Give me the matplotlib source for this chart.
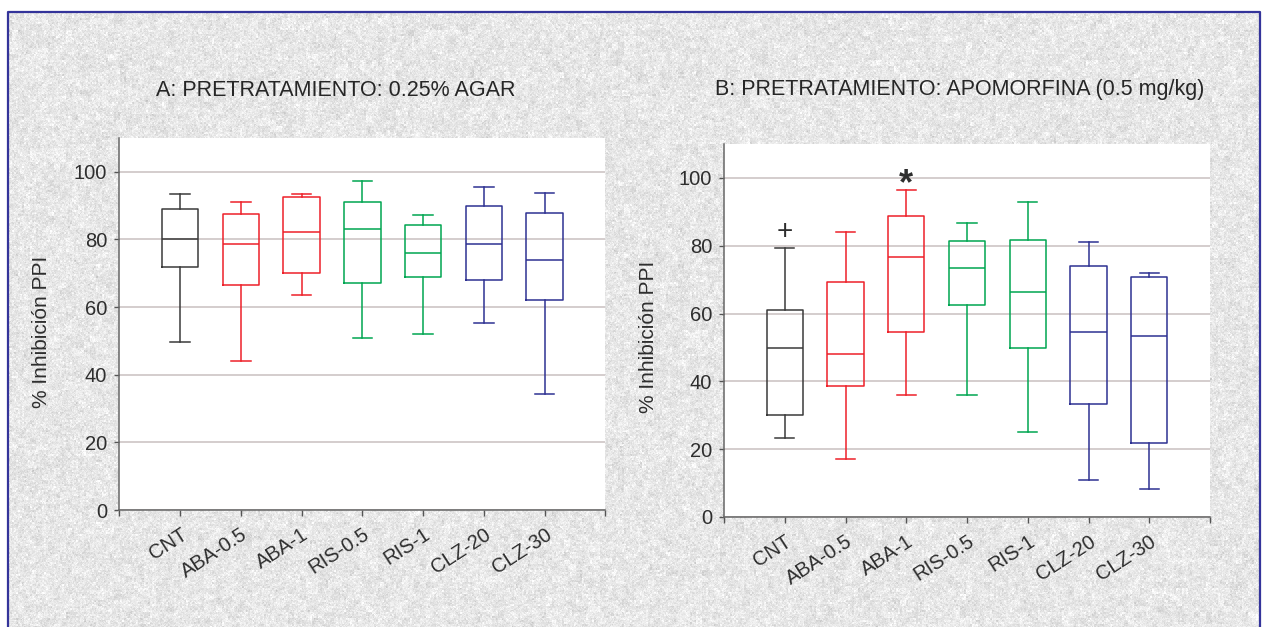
import numpy as np
import matplotlib
matplotlib.use("Agg")
import matplotlib.pyplot as plt

plt.rcParams['font.family'] = ['Liberation Sans', 'DejaVu Sans']

# groups and colours
groups = ["CNT", "ABA-0.5", "ABA-1", "RIS-0.5", "RIS-1", "CLZ-20", "CLZ-30"]
colors = ["#3a3a3a", "#ee2129", "#ee2129", "#00a651", "#00a651", "#2e3192", "#2e3192"]

# A: pretratamiento 0.25% agar
a_low = [49.7, 44.0, 63.5, 50.9, 51.9, 55.2, 34.2]
a_q1 = [72.0, 66.4, 70.0, 67.1, 68.8, 67.9, 62.2]
a_med = [80.0, 78.7, 82.3, 83.1, 76.1, 78.8, 74.0]
a_q3 = [89.1, 87.4, 92.7, 91.2, 84.3, 89.9, 87.8]
a_high = [93.5, 91.2, 93.4, 97.3, 87.2, 95.6, 93.6]

# B: pretratamiento apomorfina
b_low = [23.3, 17.1, 36.1, 36.1, 25.2, 10.8, 8.2]
b_q1 = [30.0, 38.5, 54.5, 62.4, 49.9, 33.2, 21.9]
b_med = [49.9, 48.0, 76.7, 73.3, 66.4, 54.7, 53.5]
b_q3 = [61.0, 69.4, 88.8, 81.5, 81.8, 74.1, 70.7]
b_high = [79.3, 84.0, 96.4, 86.6, 92.8, 81.0, 71.9]

# significance marks in panel B
mark_groups = [0, 2]
mark_symbols = ["+", "*"]
mark_y = [84.0, 100.4]

W, H = 1268, 627
fig = plt.figure(figsize=(W / 100, H / 100), dpi=100)

# grainy grey backdrop with a navy frame
bg = fig.add_axes([0, 0, 1, 1])
rng = np.random.default_rng(11)
blotch = np.kron(rng.normal(0, 1, (H // 6 + 1, W // 6 + 1)), np.ones((6, 6)))[:H, :W]
coarse = np.kron(rng.normal(0, 1, (H // 2 + 1, W // 2 + 1)), np.ones((2, 2)))[:H, :W]
fine = rng.normal(0, 1, (H, W))
tex = np.clip(0.905 + 0.015 * blotch + 0.025 * coarse + 0.022 * fine, 0.72, 1.0)
bg.imshow(tex, cmap="gray", vmin=0, vmax=1, extent=[0, W, H, 0],
          interpolation="nearest", aspect="auto")
bg.fill_between([0, W], 0, 12, color="white", lw=0)
bg.fill_between([0, 8], 0, H, color="white", lw=0)
bg.fill_between([1260, W], 0, H, color="white", lw=0)
bg.plot([8, 8, 1260, 1260], [H, 12, 12, H], color="#34349a", lw=1.6)
bg.set_xlim(0, W)
bg.set_ylim(H, 0)
bg.axis("off")


def draw_panel(rect, low, q1, med, q3, high):
    ax = fig.add_axes(rect)
    ax.set_facecolor("white")
    stats = []
    for i, g in enumerate(groups):
        stats.append(dict(label=g, whislo=low[i], q1=q1[i], med=med[i],
                          q3=q3[i], whishi=high[i], fliers=[]))
    art = ax.bxp(stats, positions=range(1, 8), widths=0.6, showfliers=False,
                 capwidths=0.32)
    for i, c in enumerate(colors):
        art["boxes"][i].set(color=c, lw=1.1)
        art["medians"][i].set(color=c, lw=1.1)
        for k in (2 * i, 2 * i + 1):
            art["whiskers"][k].set(color=c, lw=1.1)
            art["caps"][k].set(color=c, lw=1.1)
    ax.set_xlim(0, 8)
    ax.set_ylim(0, 110)
    ax.set_yticks([0, 20, 40, 60, 80, 100])
    ax.set_xticks(range(9))
    ax.set_xticklabels([""] + groups + [""], rotation=33, ha="right",
                       rotation_mode="anchor", fontsize=14.5, color="#2e2e2e")
    ax.tick_params(axis="y", labelsize=14.5, labelcolor="#2e2e2e", length=3.6,
                   width=1, color="#555555", pad=5)
    ax.tick_params(axis="x", length=4.5, width=1, color="#555555", pad=6)
    ax.yaxis.grid(True, color="#c9c0c0", lw=1.1)
    ax.set_axisbelow(True)
    for s in ("top", "right"):
        ax.spines[s].set_visible(False)
    for s in ("left", "bottom"):
        ax.spines[s].set_color("#666666")
        ax.spines[s].set_linewidth(1.1)
    return ax


ax_a = draw_panel([119.3 / W, 1 - 510 / H, 486 / W, 372 / H],
                  a_low, a_q1, a_med, a_q3, a_high)
ax_b = draw_panel([724 / W, 1 - 517 / H, 486 / W, 373 / H],
                  b_low, b_q1, b_med, b_q3, b_high)

ax_b.text(mark_groups[0] + 1, mark_y[0], mark_symbols[0], ha="center",
          va="center", fontsize=20, color="#2e2e2e")
ax_b.text(mark_groups[1] + 1, mark_y[1], mark_symbols[1], ha="center",
          va="center", fontsize=26, color="#2e2e2e", fontweight="bold",
          transform=ax_b.transData + matplotlib.transforms.ScaledTranslation(
              0, -6 / 72, fig.dpi_scale_trans))

fig.text(335.6 / W, 1 - 90 / H, "A: PRETRATAMIENTO: 0.25% AGAR",
         ha="center", va="center", fontsize=15.5, color="#262626")
fig.text(960 / W, 1 - 90 / H, "B: PRETRATAMIENTO: APOMORFINA (0.5 mg/kg)",
         ha="center", va="center", fontsize=15.5, color="#262626")
fig.text(42 / W, 1 - 332 / H, "% Inhibición PPI", rotation=90,
         ha="center", va="center", fontsize=15, color="#2e2e2e")
fig.text(648 / W, 1 - 337 / H, "% Inhibición PPI", rotation=90,
         ha="center", va="center", fontsize=15, color="#2e2e2e")

fig.savefig("out.png", dpi=100)
